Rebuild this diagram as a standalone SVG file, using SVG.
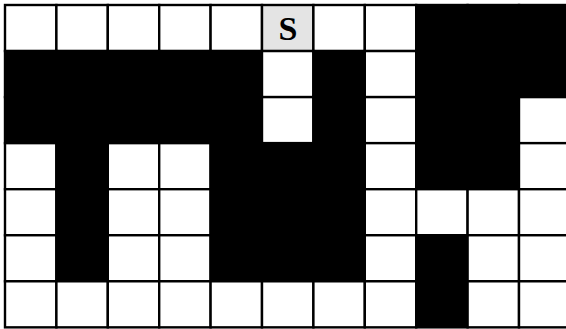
<svg xmlns="http://www.w3.org/2000/svg" width="566" height="329" viewBox="0 0 566 329">
<style>
.w{fill:#ffffff;stroke:#000;stroke-width:2.4}
.b{fill:#000000;stroke:#000;stroke-width:2.4}
.s{fill:#e4e4e4;stroke:#000;stroke-width:2.4}
.t{font-family:"Liberation Serif","Times New Roman",serif;font-weight:bold;font-size:34px;fill:#000}
</style>
<rect x="0" y="0" width="566" height="329" fill="#ffffff"/>
<g id="grid">
<g id="row0">
<rect class="w" x="5" y="5" width="51.4" height="46.05"/>
<rect class="w" x="56.4" y="5" width="51.4" height="46.05"/>
<rect class="w" x="107.8" y="5" width="51.4" height="46.05"/>
<rect class="w" x="159.2" y="5" width="51.4" height="46.05"/>
<rect class="w" x="210.6" y="5" width="51.4" height="46.05"/>
<g id="start">
<rect class="s" x="262" y="5" width="51.4" height="46.05"/>
<text class="t" x="288" y="39.5" text-anchor="middle">S</text>
</g>
<rect class="w" x="313.4" y="5" width="51.4" height="46.05"/>
<rect class="w" x="364.8" y="5" width="51.4" height="46.05"/>
<rect class="b" x="416.2" y="5" width="51.4" height="46.05"/>
<rect class="b" x="467.6" y="5" width="51.4" height="46.05"/>
<rect class="b" x="519" y="5" width="51.4" height="46.05"/>
</g>
<g id="row1">
<rect class="b" x="5" y="51.05" width="51.4" height="46.05"/>
<rect class="b" x="56.4" y="51.05" width="51.4" height="46.05"/>
<rect class="b" x="107.8" y="51.05" width="51.4" height="46.05"/>
<rect class="b" x="159.2" y="51.05" width="51.4" height="46.05"/>
<rect class="b" x="210.6" y="51.05" width="51.4" height="46.05"/>
<rect class="w" x="262" y="51.05" width="51.4" height="46.05"/>
<rect class="b" x="313.4" y="51.05" width="51.4" height="46.05"/>
<rect class="w" x="364.8" y="51.05" width="51.4" height="46.05"/>
<rect class="b" x="416.2" y="51.05" width="51.4" height="46.05"/>
<rect class="b" x="467.6" y="51.05" width="51.4" height="46.05"/>
<rect class="b" x="519" y="51.05" width="51.4" height="46.05"/>
</g>
<g id="row2">
<rect class="b" x="5" y="97.1" width="51.4" height="46.05"/>
<rect class="b" x="56.4" y="97.1" width="51.4" height="46.05"/>
<rect class="b" x="107.8" y="97.1" width="51.4" height="46.05"/>
<rect class="b" x="159.2" y="97.1" width="51.4" height="46.05"/>
<rect class="b" x="210.6" y="97.1" width="51.4" height="46.05"/>
<rect class="w" x="262" y="97.1" width="51.4" height="46.05"/>
<rect class="b" x="313.4" y="97.1" width="51.4" height="46.05"/>
<rect class="w" x="364.8" y="97.1" width="51.4" height="46.05"/>
<rect class="b" x="416.2" y="97.1" width="51.4" height="46.05"/>
<rect class="b" x="467.6" y="97.1" width="51.4" height="46.05"/>
<rect class="w" x="519" y="97.1" width="51.4" height="46.05"/>
</g>
<g id="row3">
<rect class="w" x="5" y="143.15" width="51.4" height="46.05"/>
<rect class="b" x="56.4" y="143.15" width="51.4" height="46.05"/>
<rect class="w" x="107.8" y="143.15" width="51.4" height="46.05"/>
<rect class="w" x="159.2" y="143.15" width="51.4" height="46.05"/>
<rect class="b" x="210.6" y="143.15" width="51.4" height="46.05"/>
<rect class="b" x="262" y="143.15" width="51.4" height="46.05"/>
<rect class="b" x="313.4" y="143.15" width="51.4" height="46.05"/>
<rect class="w" x="364.8" y="143.15" width="51.4" height="46.05"/>
<rect class="b" x="416.2" y="143.15" width="51.4" height="46.05"/>
<rect class="b" x="467.6" y="143.15" width="51.4" height="46.05"/>
<rect class="w" x="519" y="143.15" width="51.4" height="46.05"/>
</g>
<g id="row4">
<rect class="w" x="5" y="189.2" width="51.4" height="46.05"/>
<rect class="b" x="56.4" y="189.2" width="51.4" height="46.05"/>
<rect class="w" x="107.8" y="189.2" width="51.4" height="46.05"/>
<rect class="w" x="159.2" y="189.2" width="51.4" height="46.05"/>
<rect class="b" x="210.6" y="189.2" width="51.4" height="46.05"/>
<rect class="b" x="262" y="189.2" width="51.4" height="46.05"/>
<rect class="b" x="313.4" y="189.2" width="51.4" height="46.05"/>
<rect class="w" x="364.8" y="189.2" width="51.4" height="46.05"/>
<rect class="w" x="416.2" y="189.2" width="51.4" height="46.05"/>
<rect class="w" x="467.6" y="189.2" width="51.4" height="46.05"/>
<rect class="w" x="519" y="189.2" width="51.4" height="46.05"/>
</g>
<g id="row5">
<rect class="w" x="5" y="235.25" width="51.4" height="46.05"/>
<rect class="b" x="56.4" y="235.25" width="51.4" height="46.05"/>
<rect class="w" x="107.8" y="235.25" width="51.4" height="46.05"/>
<rect class="w" x="159.2" y="235.25" width="51.4" height="46.05"/>
<rect class="b" x="210.6" y="235.25" width="51.4" height="46.05"/>
<rect class="b" x="262" y="235.25" width="51.4" height="46.05"/>
<rect class="b" x="313.4" y="235.25" width="51.4" height="46.05"/>
<rect class="w" x="364.8" y="235.25" width="51.4" height="46.05"/>
<rect class="b" x="416.2" y="235.25" width="51.4" height="46.05"/>
<rect class="w" x="467.6" y="235.25" width="51.4" height="46.05"/>
<rect class="w" x="519" y="235.25" width="51.4" height="46.05"/>
</g>
<g id="row6">
<rect class="w" x="5" y="281.3" width="51.4" height="46.05"/>
<rect class="w" x="56.4" y="281.3" width="51.4" height="46.05"/>
<rect class="w" x="107.8" y="281.3" width="51.4" height="46.05"/>
<rect class="w" x="159.2" y="281.3" width="51.4" height="46.05"/>
<rect class="w" x="210.6" y="281.3" width="51.4" height="46.05"/>
<rect class="w" x="262" y="281.3" width="51.4" height="46.05"/>
<rect class="w" x="313.4" y="281.3" width="51.4" height="46.05"/>
<rect class="w" x="364.8" y="281.3" width="51.4" height="46.05"/>
<rect class="b" x="416.2" y="281.3" width="51.4" height="46.05"/>
<rect class="w" x="467.6" y="281.3" width="51.4" height="46.05"/>
<rect class="w" x="519" y="281.3" width="51.4" height="46.05"/>
</g>
</g>
</svg>
